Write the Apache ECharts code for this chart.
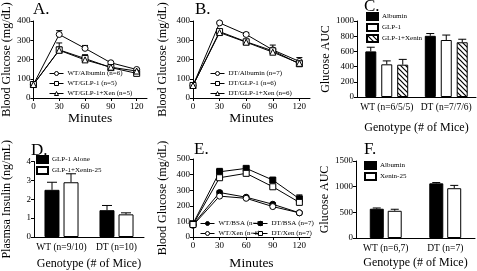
<!DOCTYPE html>
<html>
<head>
<meta charset="utf-8">
<script src="https://cdn.jsdelivr.net/npm/echarts@6/dist/echarts.min.js"></script>
<style>
  html, body { margin: 0; padding: 0; background: #fff; }
  #main { width: 477px; height: 271px; }
</style>
</head>
<body>
<div id="main"></div>
<script>
// ---- data ----
var minutes = [0, 30, 60, 90, 120];

// A. WT mice
var aAlbumin = [70, 330, 258, 183, 148];
var aAlbuminErr = [5, 20, 15, 6, 5];
var aGlp1 = [70, 250, 205, 158, 128];
var aGlp1Err = [5, 15, 20, 6, 5];
var aXen = [70, 248, 198, 160, 140];
var aXenErr = [5, 38, 10, 6, 5];

// B. DT mice
var bAlbumin = [65, 390, 330, 250, 190];
var bAlbuminErr = [5, 5, 10, 25, 20];
var bGlp1 = [65, 345, 292, 245, 178];
var bGlp1Err = [5, 10, 8, 12, 12];
var bXen = [65, 340, 290, 238, 180];
var bXenErr = [5, 8, 8, 15, 15];

// C. glucose AUC
var cCats = ['WT (n=6/5/5)', 'DT (n=7/7/6)'];
var cAlbumin = [600, 805];
var cAlbuminErr = [55, 30];
var cGlp1 = [430, 750];
var cGlp1Err = [45, 65];
var cXen = [425, 720];
var cXenErr = [70, 40];

// D. plasma insulin
var dCats = ['WT (n=9/10)', 'DT (n=10)'];
var dAlone = [2.5, 1.42];
var dAloneErr = [0.4, 0.25];
var dXen = [2.9, 1.2];
var dXenErr = [0.45, 0.08];

// E. glucose, BSA vs Xenin
var eWtBsa = [80, 285, 255, 210, 155];
var eWtBsaErr = [5, 10, 8, 8, 5];
var eWtXen = [75, 262, 248, 195, 155];
var eWtXenErr = [5, 10, 8, 8, 5];
var eDtBsa = [85, 418, 440, 365, 245];
var eDtBsaErr = [5, 22, 8, 15, 25];
var eDtXen = [80, 380, 408, 322, 222];
var eDtXenErr = [5, 10, 8, 10, 15];

// F. glucose AUC
var fCats = ['WT (n=6,7)', 'DT (n=7)'];
var fAlbumin = [570, 1065];
var fAlbuminErr = [15, 15];
var fXen = [530, 970];
var fXenErr = [30, 55];

// ---- helpers ----
var FONT = 'Liberation Serif';
var tickLabels = [0, 30, 60, 90, 120];

function pairs(xs, ys) {
  return xs.map(function (x, i) { return [x, ys[i]]; });
}

function hatch() {
  var c = document.createElement('canvas');
  c.width = 5; c.height = 5;
  var g = c.getContext('2d');
  g.fillStyle = '#fff';
  g.fillRect(0, 0, 5, 5);
  g.strokeStyle = '#000';
  g.lineWidth = 1.2;
  g.beginPath();
  g.moveTo(-1, -1); g.lineTo(6, 6);
  g.moveTo(-1, 4); g.lineTo(1, 6);
  g.moveTo(4, -1); g.lineTo(6, 1);
  g.stroke();
  return c;
}

function errSeries(idx, xs, ys, es, offset, cap) {
  return {
    type: 'custom',
    xAxisIndex: idx, yAxisIndex: idx,
    z: 1, silent: true,
    data: xs.map(function (x, i) { return [x, ys[i], es[i]]; }),
    renderItem: function (params, api) {
      var p0 = api.coord([api.value(0), api.value(1)]);
      var p1 = api.coord([api.value(0), api.value(1) + api.value(2)]);
      var x = p0[0] + offset;
      var st = { stroke: '#000', lineWidth: 1 };
      return {
        type: 'group',
        children: [
          { type: 'line', shape: { x1: x, y1: p0[1], x2: x, y2: p1[1] }, style: st },
          { type: 'line', shape: { x1: x - cap, y1: p1[1], x2: x + cap, y2: p1[1] }, style: st }
        ]
      };
    }
  };
}

function lineSeries(idx, name, ys, symbol, filled) {
  return {
    type: 'line', name: name,
    xAxisIndex: idx, yAxisIndex: idx,
    data: pairs(minutes, ys),
    symbol: symbol, symbolSize: 6,
    z: 3,
    lineStyle: { color: '#000', width: 1 },
    itemStyle: { color: filled ? '#000' : '#fff', borderColor: '#000', borderWidth: 1 }
  };
}

function barSeries(idx, name, ys, color, w, gap) {
  return {
    type: 'bar', name: name,
    xAxisIndex: idx, yAxisIndex: idx,
    data: ys, barWidth: w, barGap: gap,
    itemStyle: { color: color, borderColor: '#000', borderWidth: 1 }
  };
}

var axisText = { color: '#000', fontFamily: FONT, fontSize: 9 };
var nameText = { color: '#000', fontFamily: FONT, fontSize: 12 };
var blackLine = { show: true, lineStyle: { color: '#000', width: 1 } };
var blackTick = { show: true, length: 3, lineStyle: { color: '#000' } };

function timeAxis(idx, gap) {
  return {
    type: 'value', gridIndex: idx, min: 0, max: 132,
    name: 'Minutes', nameLocation: 'middle', nameGap: gap,
    nameTextStyle: { color: '#000', fontFamily: FONT, fontSize: 13.5 },
    axisLine: blackLine,
    axisTick: { show: true, length: 3, lineStyle: { color: '#000' }, customValues: tickLabels },
    axisLabel: Object.assign({ margin: 4, customValues: tickLabels }, axisText),
    splitLine: { show: false }
  };
}

function catAxis(idx, cats, gap) {
  return {
    type: 'category', gridIndex: idx, data: cats,
    name: 'Genotype (# of Mice)', nameLocation: 'middle', nameGap: gap,
    nameTextStyle: nameText,
    axisLine: blackLine, axisTick: { show: false },
    axisLabel: Object.assign({ margin: 5, interval: 0 }, axisText, { fontSize: 9.5 }),
    splitLine: { show: false }
  };
}

function valAxis(idx, name, max, interval, gap) {
  return {
    type: 'value', gridIndex: idx, min: 0, max: max, interval: interval,
    name: name, nameLocation: 'middle', nameGap: gap,
    nameTextStyle: nameText,
    axisLine: blackLine, axisTick: blackTick,
    axisLabel: Object.assign({ margin: 3, formatter: function (v) { return String(v); } }, axisText),
    splitLine: { show: false }
  };
}

function legend(names, left, top, icon) {
  var l = {
    data: names, left: left, top: top, orient: 'vertical',
    itemWidth: icon ? 11 : 14, itemHeight: icon ? 7 : 5, itemGap: icon ? 2 : 3,
    padding: 0,
    selectedMode: false,
    lineStyle: { width: 1, color: '#000' },
    textStyle: { color: '#000', fontFamily: FONT, fontSize: 7, padding: [0, 0, 0, -1] }
  };
  if (icon) l.icon = icon;
  else l.itemStyle = { borderWidth: 1 };
  return l;
}

function panelTitle(text, left, top) {
  return { text: text, left: left, top: top, padding: 0,
    textStyle: { color: '#000', fontFamily: FONT, fontSize: 17, fontWeight: 'normal' } };
}

var pattern = { image: hatch(), repeat: 'repeat' };

var option = {
  animation: false,
  backgroundColor: '#fff',
  title: [
    panelTitle('A.', 33, 1),
    panelTitle('B.', 195, 1),
    panelTitle('C.', 364, -2),
    panelTitle('D.', 31, 142),
    panelTitle('E.', 194, 141),
    panelTitle('F.', 364, 141)
  ],
  grid: [
    { left: 31, top: 21, width: 116, height: 77 },
    { left: 193, top: 21, width: 117, height: 77 },
    { left: 357, top: 21, width: 119, height: 76 },
    { left: 32, top: 161.5, width: 112, height: 77 },
    { left: 193, top: 159, width: 117, height: 79 },
    { left: 356, top: 161, width: 119, height: 77 }
  ],
  legend: [
    legend(['WT/Albumin (n=6)', 'WT/GLP-1 (n=5)', 'WT/GLP-1+Xen (n=5)'], 49, 70),
    legend(['DT/Albumin (n=7)', 'DT/GLP-1 (n=6)', 'DT/GLP-1+Xen (n=6)'], 210, 70),
    legend(['Albumin', 'GLP-1', 'GLP-1+Xenin'], 366, 12, 'rect'),
    legend(['GLP-1 Alone', 'GLP-1+Xenin-25'], 36, 155, 'rect'),
    legend(['WT/BSA (n=6)', 'WT/Xen (n=6)'], 200, 220),
    legend(['DT/BSA (n=7)', 'DT/Xen (n=7)'], 253, 220),
    legend(['Albumin ', 'Xenin-25'], 364, 161, 'rect')
  ],
  xAxis: [
    timeAxis(0, 13),
    timeAxis(1, 13),
    catAxis(2, cCats, 25),
    catAxis(3, dCats, 21),
    timeAxis(4, 19),
    catAxis(5, fCats, 19)
  ],
  yAxis: [
    valAxis(0, 'Blood Glucose (mg/dL)', 400, 100, 17),
    valAxis(1, 'Blood Glucose (mg/dL)', 400, 100, 24),
    valAxis(2, 'Glucose AUC', 1000, 200, 24),
    valAxis(3, 'Plasmsa Insulin (ng/mL)', 4, 1, 21),
    valAxis(4, 'Blood Glucose (mg/dL)', 500, 100, 24),
    valAxis(5, 'Glucose AUC', 1500, 500, 24)
  ],
  series: [
    // A
    errSeries(0, minutes, aAlbumin, aAlbuminErr, 0, 3),
    errSeries(0, minutes, aGlp1, aGlp1Err, 0, 3),
    errSeries(0, minutes, aXen, aXenErr, 0, 3),
    lineSeries(0, 'WT/Albumin (n=6)', aAlbumin, 'circle', false),
    lineSeries(0, 'WT/GLP-1 (n=5)', aGlp1, 'rect', false),
    lineSeries(0, 'WT/GLP-1+Xen (n=5)', aXen, 'triangle', false),
    // B
    errSeries(1, minutes, bAlbumin, bAlbuminErr, 0, 3),
    errSeries(1, minutes, bGlp1, bGlp1Err, 0, 3),
    errSeries(1, minutes, bXen, bXenErr, 0, 3),
    lineSeries(1, 'DT/Albumin (n=7)', bAlbumin, 'circle', false),
    lineSeries(1, 'DT/GLP-1 (n=6)', bGlp1, 'rect', false),
    lineSeries(1, 'DT/GLP-1+Xen (n=6)', bXen, 'triangle', false),
    // C
    barSeries(2, 'Albumin', cAlbumin, '#000', 11, '45%'),
    barSeries(2, 'GLP-1', cGlp1, '#fff', 11, '45%'),
    barSeries(2, 'GLP-1+Xenin', cXen, pattern, 11, '45%'),
    errSeries(2, [0, 1], cAlbumin, cAlbuminErr, -16, 4),
    errSeries(2, [0, 1], cGlp1, cGlp1Err, 0, 4),
    errSeries(2, [0, 1], cXen, cXenErr, 16, 4),
    // D
    barSeries(3, 'GLP-1 Alone', dAlone, '#000', 15, '27%'),
    barSeries(3, 'GLP-1+Xenin-25', dXen, '#fff', 15, '27%'),
    errSeries(3, [0, 1], dAlone, dAloneErr, -9.5, 5),
    errSeries(3, [0, 1], dXen, dXenErr, 9.5, 5),
    // E
    errSeries(4, minutes, eWtBsa, eWtBsaErr, 0, 3),
    errSeries(4, minutes, eWtXen, eWtXenErr, 0, 3),
    errSeries(4, minutes, eDtBsa, eDtBsaErr, 0, 3),
    errSeries(4, minutes, eDtXen, eDtXenErr, 0, 3),
    lineSeries(4, 'WT/BSA (n=6)', eWtBsa, 'circle', true),
    lineSeries(4, 'WT/Xen (n=6)', eWtXen, 'circle', false),
    lineSeries(4, 'DT/BSA (n=7)', eDtBsa, 'rect', true),
    lineSeries(4, 'DT/Xen (n=7)', eDtXen, 'rect', false),
    // F
    barSeries(5, 'Albumin ', fAlbumin, '#000', 14, '28%'),
    barSeries(5, 'Xenin-25', fXen, '#fff', 14, '28%'),
    errSeries(5, [0, 1], fAlbumin, fAlbuminErr, -9, 4),
    errSeries(5, [0, 1], fXen, fXenErr, 9, 4)
  ]
};

// bar error bars sit above the bars
option.series.forEach(function (s) {
  if (s.type === 'custom' && s.xAxisIndex !== 0 && s.xAxisIndex !== 1 && s.xAxisIndex !== 4) s.z = 3;
});

echarts.init(document.getElementById('main')).setOption(option);
</script>
</body>
</html>
